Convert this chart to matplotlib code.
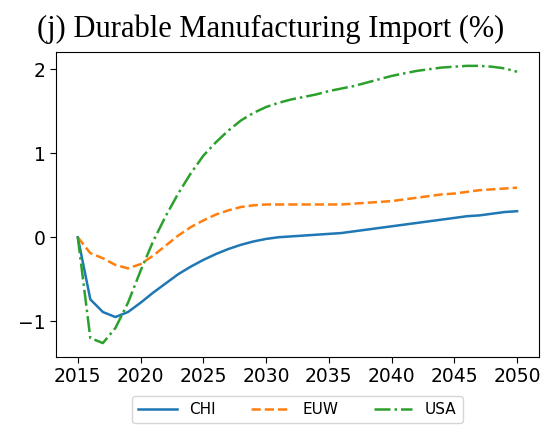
import numpy as np
import matplotlib
matplotlib.use("Agg")
import matplotlib.pyplot as plt

years = list(range(2015, 2051))

chi = [0.00, -0.74, -0.89, -0.95, -0.89, -0.78, -0.66, -0.55, -0.44, -0.35, -0.27,
       -0.20, -0.14, -0.09, -0.05, -0.02, -0.00, 0.01, 0.02, 0.03, 0.04,
       0.05, 0.07, 0.09, 0.11, 0.13, 0.15, 0.17, 0.19, 0.21, 0.23,
       0.25, 0.26, 0.28, 0.30, 0.31]
euw = [0.00, -0.19, -0.25, -0.33, -0.37, -0.32, -0.22, -0.10, 0.02, 0.12, 0.20,
       0.27, 0.32, 0.36, 0.38, 0.39, 0.39, 0.39, 0.39, 0.39, 0.39,
       0.39, 0.40, 0.41, 0.42, 0.43, 0.45, 0.47, 0.49, 0.51, 0.52,
       0.54, 0.56, 0.57, 0.58, 0.59]
usa = [0.00, -1.20, -1.26, -1.08, -0.78, -0.40, -0.05, 0.25, 0.52, 0.76, 0.97,
       1.13, 1.27, 1.39, 1.48, 1.55, 1.60, 1.64, 1.67, 1.70, 1.74,
       1.77, 1.80, 1.84, 1.88, 1.92, 1.95, 1.98, 2.00, 2.02, 2.03,
       2.04, 2.04, 2.03, 2.01, 1.97]

fig, ax = plt.subplots(figsize=(5.42, 4.28), dpi=100)
ax.plot(years, chi, '-', color='tab:blue', lw=1.8, label='CHI')
ax.plot(years, euw, '--', color='tab:orange', lw=1.8, label='EUW')
ax.plot(years, usa, '-.', color='tab:green', lw=1.8, label='USA')
# title sits on the figure centre, not the axes centre
ax.set_title('(j) Durable Manufacturing Import (%)', family='Liberation Serif', fontsize=22, pad=11, x=0.445)
ax.set_xticks([2015, 2020, 2025, 2030, 2035, 2040, 2045, 2050])
ax.set_yticks([-1, 0, 1, 2])
ax.tick_params(labelsize=13.5, length=4)
ax.legend(loc='upper center', bbox_to_anchor=(0.5, -0.128), borderaxespad=0, ncol=3, fontsize=11,
          handlelength=2.5, handletextpad=0.85, columnspacing=2.3)
fig.subplots_adjust(left=0.103, right=0.9945, top=0.8785, bottom=0.166)
fig.savefig('out.png')
